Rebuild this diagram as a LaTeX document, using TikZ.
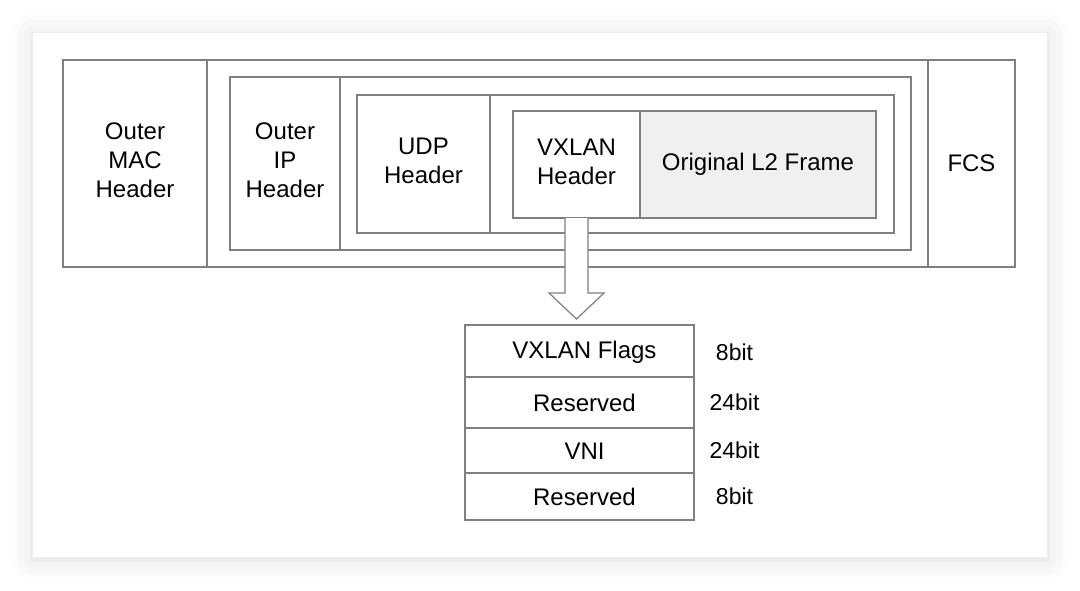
\documentclass[tikz,border=0pt]{standalone}
\usepackage{fontspec}
\setmainfont{Liberation Sans}
\usetikzlibrary{positioning,calc,shadows.blur}

\begin{document}
\begin{tikzpicture}[x=1pt,y=-1pt,line join=miter,
  frame/.style={draw=custcol_80_80_80, line width=1.2pt},
  cell/.style={frame, inner sep=0, outer sep=0, align=center, font=\fontsize{24pt}{29pt}\selectfont},
  hdr/.style={cell, text depth=6pt},
  field/.style={cell, minimum width=229, text height=17.2pt, text depth=0pt},
  bitlbl/.style={inner sep=0, outer sep=0, font=\fontsize{23pt}{23pt}\selectfont}]
\useasboundingbox (0,0) rectangle (1080,590);
\definecolor{custcol_80_80_80}{RGB}{128, 128, 128}
\definecolor{custcol_f0_f0_f0}{RGB}{240, 240, 240}
% card
\fill [white, blur shadow={shadow xshift=0pt, shadow yshift=-2pt, shadow blur radius=22pt, shadow opacity=14}] (33,33) rectangle (1047,557);
% outer frame
\node[cell, minimum width=952, minimum height=207] (frame) at (539,163.5) {};
\node[hdr, minimum width=144, minimum height=207] (mac) at (135,163.5) {Outer\\MAC\\Header};
\node[cell, minimum width=87, minimum height=207] (fcs) at (971.5,163.5) {FCS};
% ip packet
\node[cell, minimum width=681, minimum height=173] (ippkt) at (570.5,163.5) {};
\node[hdr, minimum width=110, minimum height=173] (ip) at (285,163.5) {Outer\\IP\\Header};
% udp packet
\node[cell, minimum width=537, minimum height=138] (udppkt) at (625.5,164) {};
\node[hdr, minimum width=133, minimum height=138] (udp) at (423.5,164) {UDP\\Header};
% vxlan packet
\node[hdr, minimum width=127, minimum height=107] (vxlan) at (576.5,164.5) {VXLAN\\Header};
\node[cell, fill=custcol_f0_f0_f0, minimum width=236, minimum height=107, anchor=west] (l2) at (vxlan.east) {Original L2 Frame};
% vxlan header fields
\node[field, text height=14.2pt, minimum height=52] (flags) at (579.5,351) {\hspace*{10pt}VXLAN Flags};
\node[field, minimum height=51, anchor=north] (rsv1) at (flags.south) {\hspace*{10pt}Reserved};
\node[field, minimum height=45, anchor=north] (vni) at (rsv1.south) {\hspace*{10pt}VNI};
\node[field, minimum height=47, anchor=north] (rsv2) at (vni.south) {\hspace*{10pt}Reserved};
\node[bitlbl] (bflags) at ([xshift=40.5pt,yshift=-1.5pt]flags.east) {8bit};
\node[bitlbl] (brsv1) at ([xshift=40.5pt]rsv1.east) {24bit};
\node[bitlbl] (bvni) at ([xshift=40.5pt]vni.east) {24bit};
\node[bitlbl] (brsv2) at ([xshift=40.5pt]rsv2.east) {8bit};
% block arrow
\coordinate (tip) at ($(vxlan.south |- flags.north)+(0,-6)$);
\draw [frame, fill=white] ($(vxlan.south)+(-11.5,0)$) -- ($(vxlan.south)+(-11.5,75)$) -- ++(-16,0) -- (tip) -- ($(vxlan.south)+(27.5,75)$) -- ++(-16,0) -- ($(vxlan.south)+(11.5,0)$);
\end{tikzpicture}
\end{document}
